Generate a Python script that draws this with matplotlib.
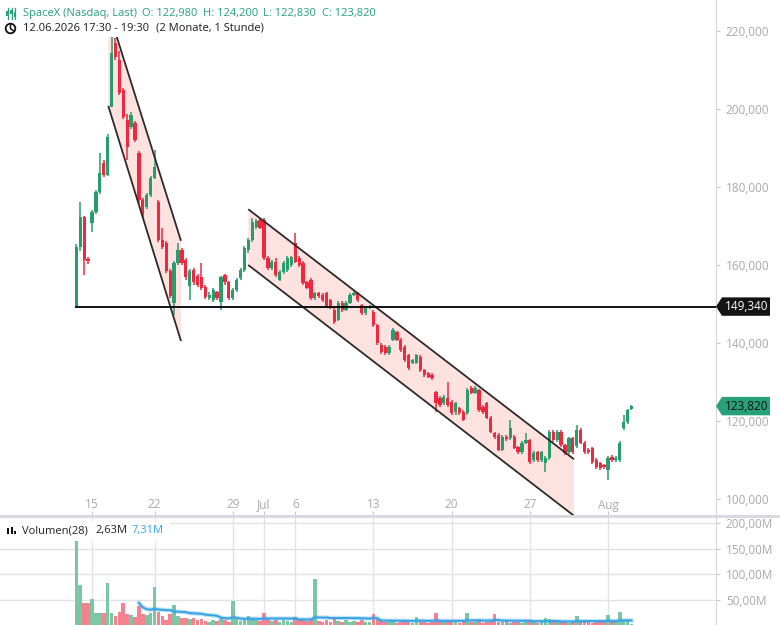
#!/usr/bin/env python3
"""SpaceX (Nasdaq) hourly candles with two trend channels, support line and volume pane -> out.png"""

import numpy as np
import pandas as pd
import matplotlib
matplotlib.use("Agg")
import matplotlib.pyplot as plt
import matplotlib.transforms as mtransforms
from matplotlib.patches import Polygon, Rectangle, Circle
from matplotlib.lines import Line2D

# ---- data (price in USD, volume in millions) ----
opens = [
    149.3, 164.7, 172.2, 161.6, 170.8, 173.6, 178.7, 186.2, 183.1, 200.5,
    217.0, 212.6, 204.9, 197.2, 195.4, 196.4, 188.7, 176.7, 174.9, 178.0,
    182.3, 176.2, 166.4, 165.6, 158.5, 150.3, 160.5, 163.8, 161.3, 154.6,
    158.7, 157.2, 156.9, 154.4, 151.5, 151.0, 153.0, 150.5, 157.4, 155.6,
    151.5, 153.6, 156.7, 158.7, 163.8, 166.4, 169.7, 171.5, 171.5, 161.8,
    159.2, 160.8, 156.2, 158.2, 158.7, 160.0, 165.6, 161.8, 160.5, 155.6,
    156.2, 151.5, 152.8, 152.3, 152.8, 151.0, 148.5, 146.0, 150.3, 148.5,
    150.3, 152.3, 152.8, 149.7, 147.7, 149.0, 148.0, 144.6, 139.5, 139.0,
    137.4, 140.8, 142.8, 140.8, 139.0, 136.9, 134.9, 134.9, 136.4, 133.0,
    132.2, 131.8, 127.4, 125.9, 124.6, 125.9, 124.9, 122.3, 123.3, 122.3,
    122.0, 128.5, 127.2, 127.9, 123.6, 124.6, 120.8, 116.9, 116.4, 112.6,
    115.9, 115.6, 115.9, 113.3, 112.0, 114.4, 115.1, 110.0, 112.0, 110.0,
    109.2, 110.5, 117.2, 115.1, 117.2, 113.8, 112.0, 115.6, 113.5, 117.7,
    114.4, 112.6, 113.0, 110.0, 109.2, 108.6, 107.4, 110.8, 110.0, 110.0,
    118.2, 119.7, 122.98,
]
highs = [
    165.5, 176.2, 172.6, 162.0, 174.0, 179.2, 188.7, 186.8, 193.5, 218.5,
    218.3, 215.0, 205.5, 198.8, 199.2, 197.0, 189.2, 177.2, 178.5, 182.8,
    189.5, 176.7, 169.5, 166.2, 159.0, 161.0, 165.6, 164.3, 161.8, 159.0,
    159.2, 157.6, 160.5, 154.8, 153.0, 154.0, 153.4, 157.3, 157.8, 156.0,
    154.0, 156.6, 159.2, 164.9, 166.9, 172.0, 171.8, 172.0, 172.0, 162.3,
    161.2, 161.8, 158.6, 161.0, 162.3, 162.4, 168.2, 162.2, 161.0, 156.0,
    156.6, 153.2, 153.2, 152.7, 153.2, 151.4, 149.0, 150.7, 150.7, 150.8,
    152.7, 153.4, 153.2, 150.1, 149.6, 149.8, 148.4, 145.0, 140.0, 139.4,
    139.4, 143.8, 143.2, 141.2, 139.4, 137.3, 136.0, 137.3, 136.8, 133.4,
    132.6, 132.2, 127.8, 126.3, 126.6, 130.0, 125.3, 125.0, 123.7, 122.7,
    128.4, 128.9, 128.9, 128.3, 124.0, 125.0, 121.2, 117.3, 116.8, 116.3,
    116.3, 120.3, 116.3, 113.7, 114.8, 116.9, 115.5, 112.2, 112.4, 112.4,
    110.9, 117.6, 117.6, 117.6, 117.6, 114.2, 116.0, 116.0, 119.0, 118.2,
    114.8, 113.0, 113.4, 110.4, 109.6, 109.0, 110.9, 111.2, 110.9, 115.0,
    121.5, 123.2, 124.2,
]
lows = [
    149.3, 163.5, 157.4, 160.2, 168.5, 173.0, 178.2, 182.5, 182.8, 200.5,
    212.5, 203.5, 197.5, 187.0, 194.8, 191.5, 176.0, 172.0, 174.4, 177.5,
    182.0, 166.0, 164.0, 158.0, 151.5, 147.2, 160.0, 160.0, 156.2, 151.0,
    155.0, 154.4, 153.6, 151.3, 151.0, 150.6, 151.0, 148.5, 155.0, 151.0,
    151.0, 153.0, 156.2, 158.2, 163.2, 166.0, 169.3, 169.2, 161.3, 158.7,
    158.8, 157.0, 155.8, 157.8, 158.3, 159.6, 160.4, 159.6, 155.0, 153.8,
    151.0, 151.1, 151.6, 150.6, 149.0, 148.8, 145.0, 145.6, 148.0, 148.2,
    150.0, 152.0, 150.6, 147.3, 147.3, 148.6, 144.2, 139.6, 137.3, 137.0,
    137.0, 140.4, 140.4, 137.8, 135.2, 133.2, 134.5, 134.5, 132.6, 131.4,
    130.9, 130.6, 122.3, 123.7, 124.2, 123.7, 121.6, 121.5, 121.6, 119.9,
    121.6, 126.8, 126.8, 122.4, 121.9, 120.4, 116.8, 115.5, 112.2, 112.2,
    115.0, 115.2, 112.7, 111.6, 111.6, 114.0, 109.1, 109.6, 109.6, 109.6,
    106.9, 110.1, 114.7, 114.7, 113.4, 111.4, 111.6, 111.6, 113.0, 114.0,
    111.6, 111.6, 109.1, 107.8, 107.5, 107.7, 104.9, 109.6, 109.6, 109.6,
    117.8, 119.3, 122.83,
]
closes = [
    164.7, 172.4, 161.3, 160.9, 173.6, 178.7, 183.6, 183.1, 192.8, 214.4,
    213.3, 204.0, 198.0, 190.3, 198.5, 192.0, 176.7, 172.8, 178.0, 182.3,
    185.1, 166.4, 164.6, 158.5, 152.0, 160.5, 163.8, 160.5, 156.9, 158.5,
    155.6, 154.9, 154.1, 151.8, 152.4, 153.6, 151.5, 156.9, 155.6, 151.5,
    153.6, 156.2, 158.7, 164.4, 166.4, 171.0, 171.3, 169.6, 161.8, 159.2,
    160.8, 157.5, 158.2, 160.5, 161.8, 162.0, 160.8, 160.0, 155.4, 154.2,
    151.5, 152.8, 152.0, 151.0, 149.5, 149.2, 145.4, 150.3, 148.5, 150.3,
    152.3, 152.8, 151.0, 147.7, 149.2, 149.4, 144.6, 140.0, 137.7, 137.4,
    139.0, 143.3, 140.8, 138.2, 135.6, 133.6, 135.6, 136.9, 133.0, 131.8,
    131.3, 131.0, 124.6, 124.1, 126.2, 124.1, 122.0, 124.6, 122.0, 120.3,
    127.9, 127.2, 128.5, 122.8, 122.3, 120.8, 117.2, 115.9, 112.6, 115.9,
    115.4, 118.2, 113.1, 112.0, 114.4, 115.1, 109.5, 111.8, 110.0, 112.0,
    110.5, 117.2, 115.1, 117.2, 113.8, 111.8, 115.6, 112.0, 117.7, 114.4,
    112.0, 112.0, 109.5, 108.2, 107.9, 108.1, 110.5, 110.0, 110.5, 114.4,
    119.7, 122.8, 123.82,
]
volumes = [
    170, 79, 44, 44, 52, 24, 24, 24, 83, 24,
    18, 26, 45, 22, 20, 16, 39, 22, 20, 24,
    76, 26, 19, 10, 22, 40, 18, 14, 15, 12,
    14, 10, 12, 9, 8, 11, 9, 13, 10, 8,
    48, 12, 9, 11, 19, 14, 10, 9, 25, 12,
    9, 11, 8, 10, 9, 8, 17, 10, 11, 9,
    12, 91, 9, 8, 10, 7, 12, 9, 8, 10,
    7, 9, 8, 11, 7, 8, 22, 12, 10, 8,
    7, 9, 6, 8, 10, 7, 6, 16, 9, 7,
    6, 8, 24, 9, 8, 10, 7, 8, 6, 9,
    24, 8, 7, 10, 6, 8, 9, 22, 8, 7,
    9, 6, 8, 7, 6, 8, 9, 7, 6, 8,
    14, 12, 8, 7, 9, 8, 6, 7, 18, 8,
    7, 9, 6, 8, 7, 9, 20, 8, 7, 26,
    11, 9, 3,
]

# first bar of each labelled day
tick_pos = [4, 20, 40, 48, 56, 76, 96, 116, 136]
tick_labels = ["15", "22", "29", "Jul", "6", "13", "20", "27", "Aug"]

price_ticks = [100, 120, 140, 160, 180, 200, 220]
vol_ticks = [50, 100, 150, 200]

support_level = 149.34
last_close = closes[-1]

# trend channels: upper start, upper end, lower end, lower start (bar index, price)
channel_1 = [(8.17, 225.4), (26.77, 166.2), (26.77, 140.5), (8.17, 200.8)]
channel_2 = [(43.98, 174.3), (127.3, 110.2), (127.3, 95.7), (43.98, 160.0)]

vol_ma_window = 17

# ---- style ----
C_UP, C_DN = "#279d6b", "#f0283f"
V_UP, V_DN = "#7dc6a3", "#f5828f"
HEAD_GREEN = "#26a17a"
GRID = "#e2e2e8"
TXT_GREY = "#a9a9a9"
TICK_GREY = "#c8c8c8"
CH_FILL = "#fde2df"
CH_LINE = "#2e2a2a"
MA_BLUE = "#3aa3e3"

plt.rcParams["font.family"] = ["Open Sans", "DejaVu Sans"]

W, H = 780, 625
fig = plt.figure(figsize=(W / 100, H / 100), dpi=100)
px = fig.dpi_scale_trans  # inches; pixel/100


def frac(x0, y0, x1, y1):
    """pixel box (top-left origin) -> figure-fraction rect"""
    return [x0 / W, 1 - y1 / H, (x1 - x0) / W, (y1 - y0) / H]


def P(x, y):
    """pixel (top-left origin) -> inches for dpi_scale_trans"""
    return (x / 100, (H - y) / 100)


XLIM = (-19.53, 163.5)

ax = fig.add_axes(frac(0, 0, 715.5, 515))
axv = fig.add_axes(frac(0, 518, 715.5, 625.6))

o, h, l, c = map(np.asarray, (opens, highs, lows, closes))
x = np.arange(len(c))
up = c >= o
cols = np.where(up, C_UP, C_DN)

# channels
for ch in (channel_1, channel_2):
    ax.add_patch(Polygon(ch, closed=True, fc=CH_FILL, ec="none", zorder=1))
    (x0, y0), (x1, y1), (x2, y2), (x3, y3) = ch
    ax.plot([x0, x1], [y0, y1], color=CH_LINE, lw=1.3, zorder=4, solid_capstyle="butt")
    ax.plot([x3, x2], [y3, y2], color=CH_LINE, lw=1.3, zorder=4, solid_capstyle="butt")

# candles
ax.vlines(x, l, h, colors=cols, lw=1.1, zorder=3)
ax.bar(x, np.maximum(np.abs(c - o), 0.3), bottom=np.minimum(o, c), width=0.85,
       color=cols, lw=0, zorder=3)

# support line
ax.plot([0, XLIM[1]], [support_level, support_level], color="black", lw=1.3, zorder=5)

ax.set_xlim(*XLIM)
ax.set_ylim(95.9, 227.95)
for s in ("left", "top", "bottom"):
    ax.spines[s].set_visible(False)
ax.spines["right"].set_color("#d6d6d6")
ax.yaxis.tick_right()
ax.set_yticks(price_ticks)
ax.set_yticklabels([f"{v:.3f}".replace(".", ",") for v in price_ticks])
ax.tick_params(axis="y", length=3, color=TICK_GREY, labelcolor=TXT_GREY,
               labelsize=8.5, pad=4.5)
ax.set_xticks(tick_pos)
ax.tick_params(axis="x", direction="in", length=3, color=TICK_GREY, labelbottom=False)
xt = mtransforms.blended_transform_factory(ax.transData, ax.transAxes)
for p, lab in zip(tick_pos, tick_labels):
    ax.text(p, 10 / 515, lab, transform=xt, ha="center", va="center",
            fontsize=8.5, color=TXT_GREY)

# price tags on the right axis
tag_t = mtransforms.blended_transform_factory(fig.transFigure, ax.transData)
half = 9.2 / 3.9
for val, face, tcol in ((support_level, "#131313", "white"), (last_close, HEAD_GREEN, "#111111")):
    pts = [(716 / W, val), (722 / W, val + half), (770 / W, val + half),
           (770 / W, val - half), (722 / W, val - half)]
    fig.add_artist(Polygon(pts, closed=True, transform=tag_t, fc=face, ec="none",
                           clip_on=False, zorder=6))
    fig.text(747 / W, val, f"{val:.3f}".replace(".", ","), transform=tag_t,
             ha="center", va="center", fontsize=8.5, color=tcol, zorder=7)

# ---- volume pane ----
v = np.asarray(volumes, dtype=float)
axv.bar(x, v, width=0.92, color=np.where(up, V_UP, V_DN), lw=0, zorder=2)
ma = pd.Series(v).rolling(vol_ma_window).mean()
axv.plot(x, ma, color=MA_BLUE, lw=3.2, alpha=0.3, zorder=3)
axv.plot(x, ma, color=MA_BLUE, lw=1.5, zorder=3)
axv.set_xlim(*XLIM)
axv.set_ylim(0, 210.5)
for s in ("left", "top", "bottom"):
    axv.spines[s].set_visible(False)
axv.spines["right"].set_color("#d6d6d6")
axv.yaxis.tick_right()
axv.set_yticks(vol_ticks)
axv.set_yticklabels([f"{t:.2f}".replace(".", ",") + "M" for t in vol_ticks])
axv.tick_params(axis="y", length=3, color=TICK_GREY, labelcolor=TXT_GREY,
                labelsize=8.5, pad=4.5)
axv.set_xticks(tick_pos)
axv.tick_params(axis="x", length=0, labelbottom=False)
axv.grid(True, color=GRID, lw=1, zorder=0)
axv.set_axisbelow(True)

# pane separator
fig.add_artist(Rectangle(P(0, 518), W / 100, 3 / 100, transform=px,
                         fc="#d9d9e1", ec="none", zorder=2))

# volume legend
fig.add_artist(Rectangle(P(0, 541), 170 / 100, 20 / 100, transform=px,
                         fc="white", ec="none", zorder=2))
for bx, top in ((7, 528), (10.5, 526.5), (14, 531)):
    fig.add_artist(Rectangle(P(bx, 534), 2.3 / 100, (534 - top) / 100, transform=px,
                             fc="#111111", ec="none", zorder=3))
fig.text(*P(22.5, 531), "Volumen(28)", transform=px, va="center", fontsize=8, color="#222222")
fig.text(*P(95, 531), "2,63M", transform=px, va="center", fontsize=8, color="#222222")
fig.text(*P(132, 531), "7,31M", transform=px, va="center", fontsize=8, color=MA_BLUE)

# ---- header ----
fig.add_artist(Rectangle(P(0, 37), 380 / 100, 34 / 100, transform=px,
                         fc="white", ec="none", zorder=2))
for cx, b0, b1 in ((7.5, 11, 16), (11.5, 10, 14), (15.0, 12, 17)):
    fig.add_artist(Line2D([cx / 100] * 2, [(H - 8) / 100, (H - 18.5) / 100],
                          transform=px, color=HEAD_GREEN, lw=0.9, zorder=3))
    fig.add_artist(Rectangle(P(cx - 1.3, b1), 2.6 / 100, (b1 - b0) / 100, transform=px,
                             fc=HEAD_GREEN, ec="none", zorder=3))
header_parts = [(23, "SpaceX (Nasdaq, Last)"), (142, "O: 122,980"), (203, "H: 124,200"),
                (263, "L: 122,830"), (322, "C: 123,820")]
for hx, s in header_parts:
    fig.text(*P(hx, 13.5), s, transform=px, va="center", fontsize=8, color=HEAD_GREEN)

fig.add_artist(Circle(P(10.5, 28.5), 4.8 / 100, transform=px, fc="none",
                      ec="#111111", lw=1.3, zorder=3))
fig.add_artist(Line2D([10.5 / 100, 10.5 / 100, 13 / 100],
                      [(H - 25) / 100, (H - 28.5) / 100, (H - 30.5) / 100],
                      transform=px, color="#111111", lw=1.1, zorder=3))
fig.text(*P(23, 28.5), "12.06.2026 17:30 - 19:30", transform=px, va="center",
         fontsize=8, color="#1a1a1a")
fig.text(*P(156, 28.5), "(2 Monate, 1 Stunde)", transform=px, va="center",
         fontsize=8, color="#1a1a1a")

fig.savefig("out.png", dpi=100)
